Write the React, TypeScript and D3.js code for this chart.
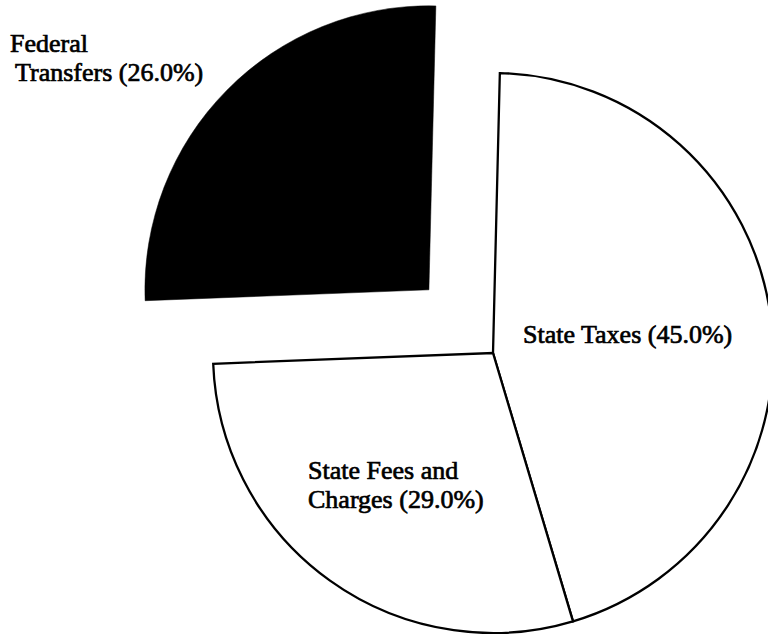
import React from "react";
import * as d3 from "d3";

const categories = ["State Taxes", "State Fees and Charges", "Federal Transfers"];
const values = [45.0, 29.0, 26.0];
const labelLines = [
  ["State Taxes (45.0%)"],
  ["State Fees and", "Charges (29.0%)"],
  ["Federal", "Transfers (26.0%)"],
];
const exploded = [false, false, true];
const fills = ["#ffffff", "#ffffff", "#000000"];

const W = 768;
const H = 634;
const cx = 493;
const cy = 353;
const R = 280;
const R_EXPLODED = 284;
const EXPLODE_DIST = 90;
const ROTATION = (1.4 * Math.PI) / 180;

// label anchor positions (left-aligned, first baseline)
const labelPos: [number, number][] = [
  [523, 343],
  [308, 479],
  [10, 52],
];
const lineIndent = [[0], [0, 0], [0, 5]];

export default function App() {
  const data = categories.map((c, i) => ({ name: c, value: values[i], i }));
  const pie = d3
    .pie<any>()
    .sort(null)
    .value((d) => d.value)
    .startAngle(ROTATION)
    .endAngle(ROTATION + 2 * Math.PI);
  const arcs = pie(data);

  return (
    <svg
      width={W}
      height={H}
      style={{ position: "absolute", left: 0, top: 0, background: "#fff" }}
    >
      <rect x={0} y={0} width={W} height={H} fill="#fff" />
      {arcs.map((a, k) => {
        const i = a.data.i;
        const mid = (a.startAngle + a.endAngle) / 2;
        const off = exploded[i] ? EXPLODE_DIST : 0;
        const dx = Math.sin(mid) * off;
        const dy = -Math.cos(mid) * off;
        const arcGen = d3
          .arc<any>()
          .innerRadius(0)
          .outerRadius(exploded[i] ? R_EXPLODED : R);
        return (
          <path
            key={k}
            d={arcGen(a) || ""}
            transform={`translate(${cx + dx},${cy + dy})`}
            fill={fills[i]}
            stroke="#000"
            strokeWidth={exploded[i] ? 0.5 : 2.3}
            strokeLinejoin="miter"
          />
        );
      })}
      {labelLines.map((lines, i) => (
        <text
          key={i}
          x={labelPos[i][0]}
          y={labelPos[i][1]}
          fontFamily="'Liberation Serif', 'DejaVu Serif', serif"
          fontSize={26}
          fill="#000"
          stroke="#000"
          strokeWidth={0.7}
        >
          {lines.map((l, j) => (
            <tspan key={j} x={labelPos[i][0] + lineIndent[i][j]} dy={j === 0 ? 0 : 29}>
              {l}
            </tspan>
          ))}
        </text>
      ))}
    </svg>
  );
}
